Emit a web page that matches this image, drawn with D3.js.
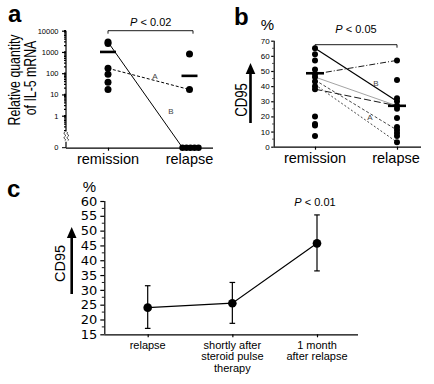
<!DOCTYPE html>
<html>
<head>
<meta charset="utf-8">
<script src="https://cdn.jsdelivr.net/npm/d3@7"></script>
<style>
body { margin: 0; background: #fff; }
svg { display: block; font-family: "Liberation Sans", Arial, sans-serif; }
.axis path, .axis line { stroke: #000; stroke-width: 1.2; }
</style>
</head>
<body>
<div id="content"></div>
<script>
// ---- data ----
var groups = ["remission", "relapse"];

// panel a: IL-5 mRNA (log scale, 0 shown below the break)
var il5Remission = [2900, 2500, 170, 90, 38, 17];
var il5Relapse = [800, 17];
var il5RelapseZeros = [0, 0, 0, 0, 0];
var il5Median = [1000, 75];
var il5Pairs = [
    { from: 170, to: 17, label: "A", dash: "3,2" },
    { from: 2900, to: 0, label: "B", dash: null }
];
var il5Ticks = [1, 10, 100, 1000, 10000];

// panel b: CD95 %
var cd95Remission = [65, 61, 57, 51, 48, 46, 43, 40, 38, 20, 15, 14, 7];
var cd95Relapse = [57, 44, 32, 30, 27, 25, 19, 13, 11, 9, 7, 3];
var cd95Median = [48.5, 27];
var cd95Pairs = [
    { from: 65, to: 30, dash: null, color: "#000", label: "B" },
    { from: 48, to: 57, dash: "6,2,1,2", color: "#000" },
    { from: 46, to: 27, dash: null, color: "#999" },
    { from: 38, to: 27, dash: "7,3", color: "#000" },
    { from: 44, to: 11, dash: "3,2", color: "#333", label: "A" },
    { from: 41, to: 3, dash: "2,2", color: "#333" }
];
var cd95Ticks = [0, 10, 20, 30, 40, 50, 60, 70];

// panel c: CD95 % over time, mean with range
var timepoints = ["relapse", "shortly after steroid pulse therapy", "1 month after relapse"];
var timeLabels = [["relapse"], ["shortly after", "steroid pulse", "therapy"], ["1 month", "after relapse"]];
var timeMean = [24, 25.5, 45.7];
var timeLow = [17, 18.7, 36.4];
var timeHigh = [31.4, 32.5, 55.3];
var timeTicks = [15, 20, 25, 30, 35, 40, 45, 50, 55, 60];

var width = 434;
var height = 384;

var svg = d3.select("#content").append("svg")
    .attr("width", width)
    .attr("height", height);

function panelLetter(x, y, t) {
    svg.append("text").attr("x", x).attr("y", y)
        .style("font-size", "24px").style("font-weight", "bold").text(t);
}

function arrowUp(x, yBottom, yTop) {
    svg.append("line").attr("x1", x).attr("x2", x).attr("y1", yBottom).attr("y2", yTop + 10)
        .attr("stroke", "#000").attr("stroke-width", 2.6);
    svg.append("path")
        .attr("d", `M${x - 4.8},${yTop + 11} L${x},${yTop} L${x + 4.8},${yTop + 11} Z`)
        .attr("fill", "#000");
}

function vText(x, y, t, size, squeeze) {
    svg.append("text")
        .attr("transform", `translate(${x},${y}) rotate(-90) scale(${squeeze},1)`)
        .attr("text-anchor", "middle")
        .style("font-size", size + "px")
        .text(t);
}

function pValue(x, y, rest) {
    var t = svg.append("text").attr("x", x).attr("y", y)
        .attr("text-anchor", "middle").style("font-size", "11px");
    t.append("tspan").style("font-style", "italic").text("P");
    t.append("tspan").text(" < " + rest);
}

// ================= panel a =================
var aX0 = 66, aX1 = 213, aBase = 147.7;
var xA = d3.scalePoint().domain(groups).range([108, 189.5]);
var yA = d3.scaleLog().domain([1, 10000]).range([115.7, 30.7]);
var yAminor = yA.copy().domain([0.2, 10000]).range([yA(0.2), 30.7]);

panelLetter(8, 21.7, "a");

var gA = svg.append("g").attr("class", "axis");
gA.append("g")
    .attr("transform", `translate(${aX0},0)`)
    .call(d3.axisLeft(yA).tickValues(il5Ticks).tickFormat(d3.format("d")).tickSize(4).tickPadding(3.5))
    .call(g => g.select(".domain").remove())
    .call(g => g.selectAll("text").style("font-size", "7.5px").style("font-family", "Liberation Sans, Arial"));

gA.selectAll(".minor")
    .data(yAminor.ticks())
    .enter()
    .append("line")
    .attr("x1", aX0 - 2).attr("x2", aX0)
    .attr("y1", d => yAminor(d)).attr("y2", d => yAminor(d))
    .attr("stroke", "#000").attr("stroke-width", 0.8);

// axis line with break
svg.append("line").attr("x1", aX0).attr("x2", aX0).attr("y1", yA(10000)).attr("y2", yA(0.2) + 1)
    .attr("stroke", "#000").attr("stroke-width", 1.2);
svg.append("line").attr("x1", aX0).attr("x2", aX0).attr("y1", aBase - 6).attr("y2", aBase)
    .attr("stroke", "#000").attr("stroke-width", 1.2);
[-1.2, 1.8].forEach(function (o) {
    svg.append("path")
        .attr("d", `M${aX0 + o},${yA(0.2) + 1.5} c-2.5,2 2.5,3 0,4.5 c-2.5,2 2.5,3 0,4`)
        .attr("fill", "none").attr("stroke", "#000").attr("stroke-width", 0.8);
});
svg.append("line").attr("x1", aX0 - 4).attr("x2", aX0).attr("y1", aBase).attr("y2", aBase)
    .attr("stroke", "#000").attr("stroke-width", 1);
svg.append("text").attr("x", aX0 - 7.5).attr("y", aBase + 2.6).attr("text-anchor", "end")
    .style("font-size", "7.5px").text("0");

// x axis
svg.append("g").attr("class", "axis")
    .attr("transform", `translate(0,${aBase})`)
    .call(d3.axisBottom(xA).tickSize(3).tickFormat(""))
    .call(g => g.select(".domain").attr("d", `M${aX0},0.5H${aX1}`));

vText(20, 80, "Relative quantity", 16, 0.77);
vText(35.5, 78, "of IL-5 mRNA", 16, 0.77);

svg.append("text").attr("x", xA("remission")).attr("y", 164).attr("text-anchor", "middle")
    .style("font-size", "14.5px").text("remission");
svg.append("text").attr("x", xA("relapse")).attr("y", 164).attr("text-anchor", "middle")
    .style("font-size", "14.5px").text("relapse");

// bracket
svg.append("path")
    .attr("d", `M${xA("remission")},${yA(10000) + 3}V${yA(10000)}H${xA("relapse") + 3.5}V${yA(10000) + 3}`)
    .attr("fill", "none").attr("stroke", "#000").attr("stroke-width", 0.9);
pValue((xA("remission") + xA("relapse")) / 2 + 2, 26, "0.02");

// paired lines
function zeroX(i) { return xA("relapse") - 7 + i * 4; }
il5Pairs.forEach(function (p) {
    var x2 = p.to === 0 ? zeroX(0) : xA("relapse");
    var y2 = p.to === 0 ? aBase : yA(p.to);
    svg.append("line")
        .attr("x1", xA("remission")).attr("y1", yA(p.from))
        .attr("x2", x2).attr("y2", y2)
        .attr("stroke", "#000").attr("stroke-width", 1)
        .attr("stroke-dasharray", p.dash);
});
svg.append("text").attr("x", 155).attr("y", 79).attr("text-anchor", "middle")
    .style("font-size", "8px").attr("fill", "#444").text(il5Pairs[0].label);
svg.append("text").attr("x", 171).attr("y", 114).attr("text-anchor", "middle")
    .style("font-size", "8px").attr("fill", "#444").text(il5Pairs[1].label);

svg.selectAll(".a-rem").data(il5Remission).enter().append("circle")
    .attr("cx", xA("remission")).attr("cy", d => yA(d)).attr("r", 3.5).attr("fill", "#000");
svg.selectAll(".a-rel").data(il5Relapse).enter().append("circle")
    .attr("cx", xA("relapse")).attr("cy", d => yA(d)).attr("r", 3.5).attr("fill", "#000");
svg.selectAll(".a-zero").data(il5RelapseZeros).enter().append("circle")
    .attr("cx", (d, i) => zeroX(i)).attr("cy", aBase).attr("r", 3.2).attr("fill", "#000");
svg.selectAll(".a-med").data(il5Median).enter().append("line")
    .attr("x1", (d, i) => xA(groups[i]) - 8).attr("x2", (d, i) => xA(groups[i]) + 8)
    .attr("y1", d => yA(d)).attr("y2", d => yA(d))
    .attr("stroke", "#000").attr("stroke-width", 2.6);

// ================= panel b =================
var bX0 = 273.7, bX1 = 421;
var xB = d3.scalePoint().domain(groups).range([315, 397]);
var yB = d3.scaleLinear().domain([0, 70]).range([146.7, 40.7]);

panelLetter(234, 25, "b");
svg.append("text").attr("x", 267.5).attr("y", 30).attr("text-anchor", "middle")
    .style("font-size", "15px").text("%");

svg.append("g").attr("class", "axis")
    .attr("transform", `translate(${bX0},0)`)
    .call(d3.axisLeft(yB).tickValues(cd95Ticks).tickSize(2.5).tickPadding(1.5))
    .call(g => g.select(".domain").attr("d", `M0.5,${yB(70)}V${yB(0)}`))
    .call(g => g.selectAll("text").style("font-size", "8px"));
svg.selectAll(".b-minor").data(d3.range(5, 70, 10)).enter().append("line")
    .attr("x1", bX0 - 1.5).attr("x2", bX0)
    .attr("y1", d => yB(d)).attr("y2", d => yB(d))
    .attr("stroke", "#000").attr("stroke-width", 0.8);

svg.append("g").attr("class", "axis")
    .attr("transform", `translate(0,${yB(0)})`)
    .call(d3.axisBottom(xB).tickSize(3).tickFormat(""))
    .call(g => g.select(".domain").attr("d", `M${bX0},0.5H${bX1}`));

vText(247, 100, "CD95", 16.5, 0.8);
arrowUp(250.5, 123, 63);

svg.append("text").attr("x", xB("remission")).attr("y", 163).attr("text-anchor", "middle")
    .style("font-size", "14.5px").text("remission");
svg.append("text").attr("x", xB("relapse") - 1).attr("y", 163).attr("text-anchor", "middle")
    .style("font-size", "14.5px").text("relapse");

svg.append("path")
    .attr("d", `M${xB("remission")},${yB(70) + 7}V${yB(70) + 4}H${xB("relapse")}V${yB(70) + 7}`)
    .attr("fill", "none").attr("stroke", "#000").attr("stroke-width", 0.9);
pValue((xB("remission") + xB("relapse")) / 2, 33, "0.05");

cd95Pairs.forEach(function (p) {
    svg.append("line")
        .attr("x1", xB("remission")).attr("y1", yB(p.from))
        .attr("x2", xB("relapse")).attr("y2", yB(p.to))
        .attr("stroke", p.color).attr("stroke-width", p.color === "#000" && !p.dash ? 1.2 : 0.9)
        .attr("stroke-dasharray", p.dash);
});
svg.append("text").attr("x", 376).attr("y", 86).attr("text-anchor", "middle")
    .style("font-size", "8px").attr("fill", "#444").text("B");
svg.append("text").attr("x", 370).attr("y", 120).attr("text-anchor", "middle")
    .style("font-size", "8px").attr("fill", "#444").text("A");

svg.selectAll(".b-rem").data(cd95Remission).enter().append("circle")
    .attr("cx", xB("remission")).attr("cy", d => yB(d)).attr("r", 3).attr("fill", "#000");
svg.selectAll(".b-rel").data(cd95Relapse).enter().append("circle")
    .attr("cx", xB("relapse")).attr("cy", d => yB(d)).attr("r", 3).attr("fill", "#000");
cd95Median.forEach(function (m, i) {
    var cx = xB(groups[i]);
    svg.append("line").attr("x1", cx - 9).attr("x2", cx + 9).attr("y1", yB(m)).attr("y2", yB(m))
        .attr("stroke", "#000").attr("stroke-width", 2.6);
    svg.append("line").attr("x1", cx).attr("x2", cx).attr("y1", yB(m) - 5).attr("y2", yB(m) + 5)
        .attr("stroke", "#000").attr("stroke-width", 2.2);
});

// ================= panel c =================
var cX0 = 104.3, cX1 = 358;
var xC = d3.scalePoint().domain(timepoints).range([147.7, 317]);
var yC = d3.scaleLinear().domain([15, 60]).range([334.3, 201]);

panelLetter(7, 197, "c");
svg.append("text").attr("x", 89.5).attr("y", 192).attr("text-anchor", "middle")
    .style("font-size", "15px").text("%");

svg.append("g").attr("class", "axis")
    .attr("transform", `translate(${cX0},0)`)
    .call(d3.axisLeft(yC).tickValues(timeTicks).tickSize(4).tickPadding(3))
    .call(g => g.select(".domain").attr("d", `M0.5,${yC(60)}V${yC(15)}`))
    .call(g => g.selectAll("text").style("font-size", "13px").style("font-family", "DejaVu Sans, sans-serif"));
svg.selectAll(".c-minor").data(d3.range(17.5, 60, 5)).enter().append("line")
    .attr("x1", cX0 - 2.5).attr("x2", cX0)
    .attr("y1", d => yC(d)).attr("y2", d => yC(d))
    .attr("stroke", "#000").attr("stroke-width", 0.9);

svg.append("g").attr("class", "axis")
    .attr("transform", `translate(0,${yC(15)})`)
    .call(d3.axisBottom(xC).tickSize(3).tickFormat(""))
    .call(g => g.select(".domain").attr("d", `M${cX0},0.5H${cX1}`));

vText(65, 263.5, "CD95", 14.5, 1);
arrowUp(71.7, 294, 227);

timeLabels.forEach(function (lines, i) {
    var t = svg.append("text").attr("text-anchor", "middle").style("font-size", "11px");
    lines.forEach(function (l, j) {
        t.append("tspan").attr("x", xC(timepoints[i])).attr("y", 349 + j * 11.3).text(l);
    });
});

pValue(xC(timepoints[2]) - 2, 205.5, "0.01");

svg.append("path")
    .datum(timeMean)
    .attr("d", d3.line().x((d, i) => xC(timepoints[i])).y(d => yC(d)))
    .attr("fill", "none").attr("stroke", "#000").attr("stroke-width", 1.2);

timepoints.forEach(function (tp, i) {
    var cx = xC(tp);
    svg.append("line").attr("x1", cx).attr("x2", cx).attr("y1", yC(timeLow[i])).attr("y2", yC(timeHigh[i]))
        .attr("stroke", "#000").attr("stroke-width", 1.2);
    [timeLow[i], timeHigh[i]].forEach(function (v) {
        svg.append("line").attr("x1", cx - 2.8).attr("x2", cx + 2.8).attr("y1", yC(v)).attr("y2", yC(v))
            .attr("stroke", "#000").attr("stroke-width", 1.2);
    });
});

svg.selectAll(".c-pt").data(timeMean).enter().append("circle")
    .attr("cx", (d, i) => xC(timepoints[i])).attr("cy", d => yC(d)).attr("r", 4.3).attr("fill", "#000");
</script>
</body>
</html>
